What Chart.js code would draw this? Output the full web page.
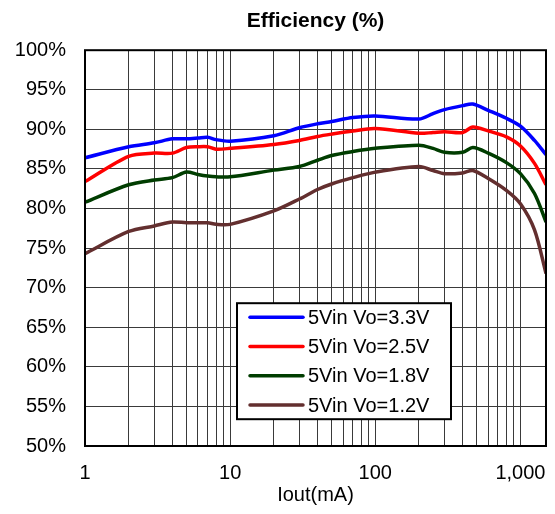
<!DOCTYPE html>
<html lang="en">
<head>
    <meta charset="UTF-8">
    <title>Efficiency</title>
    <script src="https://cdn.jsdelivr.net/npm/chart.js"></script>
    <style>
        html, body { margin: 0; padding: 0; background: #fff; }
    </style>
</head>
<body>
<canvas id="effChart" width="555" height="514"></canvas>

<script>
    // output current in mA (log axis)
    var iout = [1, 2, 3, 4, 5, 6, 7, 8, 10, 20, 30, 40, 50, 70, 100, 200, 250, 300, 400, 470, 600, 800, 1000, 1250, 1500];

    var eff33 = [86.4, 87.8, 88.3, 88.8, 88.8, 88.9, 89.0, 88.7, 88.5, 89.2, 90.2, 90.7, 91.0, 91.5, 91.7, 91.3, 92.0, 92.5, 93.0, 93.2, 92.4, 91.4, 90.4, 88.6, 86.8];
    var eff25 = [83.4, 86.6, 87.0, 87.0, 87.7, 87.8, 87.8, 87.5, 87.6, 88.1, 88.6, 89.1, 89.4, 89.8, 90.1, 89.5, 89.6, 89.7, 89.6, 90.3, 89.8, 89.05, 87.9, 85.7, 83.0];
    var eff18 = [80.8, 83.0, 83.6, 83.9, 84.6, 84.3, 84.1, 84.0, 84.0, 84.85, 85.3, 86.1, 86.7, 87.2, 87.6, 88.0, 87.6, 87.1, 87.1, 87.7, 87.0, 85.8, 84.4, 81.9, 78.3];
    var eff12 = [74.3, 77.1, 77.8, 78.3, 78.2, 78.2, 78.2, 78.0, 78.0, 79.7, 81.2, 82.4, 83.1, 83.9, 84.6, 85.3, 84.8, 84.4, 84.5, 84.8, 83.8, 82.3, 80.6, 77.3, 71.8];

    var seriesNames = ["5Vin Vo=3.3V", "5Vin Vo=2.5V", "5Vin Vo=1.8V", "5Vin Vo=1.2V"];
    var seriesColors = ["#0000FF", "#FF0000", "#003D00", "#632F2F"];
    var seriesValues = [eff33, eff25, eff18, eff12];

    // gridlines at 1..9 of every decade, labels only on decades
    var xGridValues = [];
    [1, 10, 100].forEach(function (d) {
        for (var k = 1; k <= 9; k++) xGridValues.push(k * d);
    });
    xGridValues.push(1000);

    var yMin = 50, yMax = 100, yStep = 5;

    var datasets = seriesNames.map(function (name, i) {
        return {
            label: name,
            data: iout.map(function (x, j) { return {x: x, y: seriesValues[i][j]}; }),
            borderColor: seriesColors[i],
            backgroundColor: seriesColors[i],
            borderWidth: 3.5,
            pointRadius: 0,
            tension: 0.3,
            fill: false
        };
    });

    // plot frame and boxed legend inside the plot
    var framePlugin = {
        id: 'frame',
        afterDatasetsDraw: function (chart) {
            var ctx = chart.ctx, a = chart.chartArea;
            ctx.save();
            ctx.strokeStyle = '#000';
            ctx.lineWidth = 2;
            ctx.strokeRect(a.left, a.top, a.right - a.left, a.bottom - a.top);

            var bx = a.left + 152, by = a.top + 253, bw = 214, bh = 116;
            ctx.fillStyle = '#fff';
            ctx.fillRect(bx, by, bw, bh);
            ctx.strokeRect(bx, by, bw, bh);
            ctx.font = '20px "Liberation Sans", Arial, sans-serif';
            ctx.textBaseline = 'middle';
            chart.data.datasets.forEach(function (ds, i) {
                var yy = by + 14 + i * 29.3;
                ctx.strokeStyle = ds.borderColor;
                ctx.lineWidth = 3.5;
                ctx.lineCap = 'round';
                ctx.beginPath();
                ctx.moveTo(bx + 13, yy);
                ctx.lineTo(bx + 66, yy);
                ctx.stroke();
                ctx.fillStyle = '#000';
                ctx.fillText(ds.label, bx + 71, yy + 1);
            });
            ctx.restore();
        }
    };

    var ctx = document.getElementById('effChart').getContext('2d');
    var effChart = new Chart(ctx, {
        type: 'line',
        data: {datasets: datasets},
        plugins: [framePlugin],
        options: {
            responsive: false,
            animation: false,
            layout: {padding: {left: 0, right: 9, top: 0, bottom: 0}},
            plugins: {
                legend: {display: false},
                tooltip: {enabled: false},
                title: {
                    display: true,
                    text: 'Efficiency (%)',
                    fullSize: false,
                    color: '#000',
                    font: {family: '"Liberation Sans", Arial, sans-serif', size: 21, weight: 'bold'},
                    padding: {top: 9, bottom: 16}
                }
            },
            scales: {
                x: {
                    type: 'logarithmic',
                    min: 1,
                    max: 1500,
                    afterBuildTicks: function (scale) {
                        scale.ticks = xGridValues.map(function (v) { return {value: v}; });
                    },
                    afterFit: function (scale) {
                        scale.height = 68;
                        scale.paddingLeft = 0;
                        scale.paddingRight = 0;
                    },
                    grid: {color: '#3a3a3a', lineWidth: 1, drawTicks: false},
                    border: {display: false},
                    ticks: {
                        autoSkip: false,
                        maxRotation: 0,
                        padding: 15,
                        color: '#000',
                        font: {family: '"Liberation Sans", Arial, sans-serif', size: 20},
                        callback: function (v) {
                            var lg = Math.log10(v);
                            if (Math.abs(lg - Math.round(lg)) < 1e-9) return Number(v).toLocaleString('en-US');
                            return '';
                        }
                    },
                    title: {
                        display: true,
                        text: 'Iout(mA)',
                        color: '#000',
                        font: {family: '"Liberation Sans", Arial, sans-serif', size: 20},
                        padding: {top: 0, bottom: 7}
                    }
                },
                y: {
                    min: yMin,
                    max: yMax,
                    afterFit: function (scale) { scale.width = 85; },
                    grid: {color: '#3a3a3a', lineWidth: 1, drawTicks: false},
                    border: {display: false},
                    ticks: {
                        stepSize: yStep,
                        padding: 19,
                        color: '#000',
                        font: {family: '"Liberation Sans", Arial, sans-serif', size: 20},
                        callback: function (v) { return v + '%'; }
                    }
                }
            }
        }
    });
</script>
</body>
</html>
